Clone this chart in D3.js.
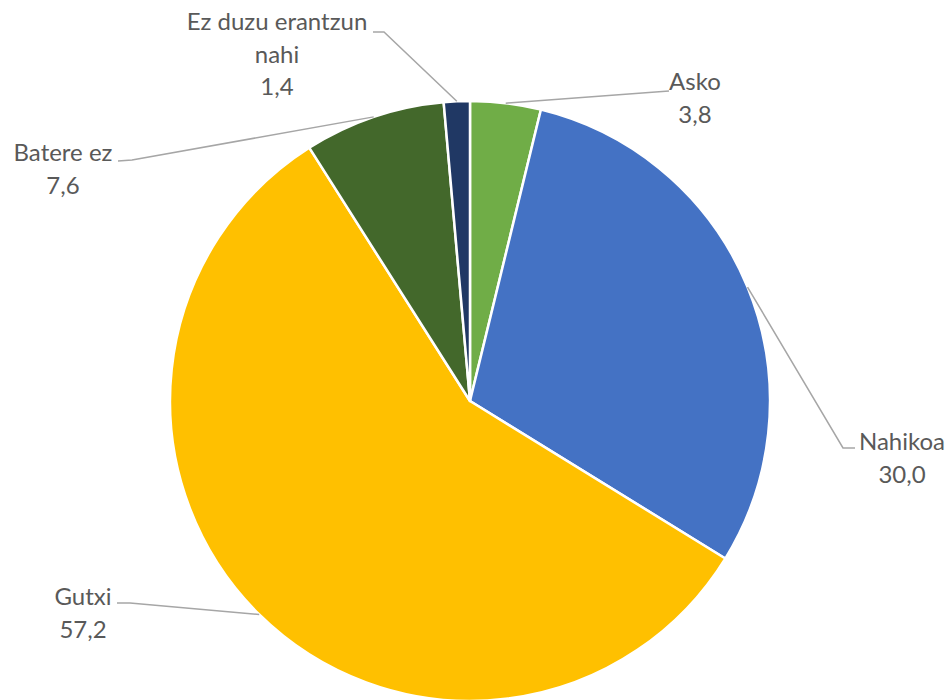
<!DOCTYPE html>
<html>
<head>
<meta charset="utf-8">
<script src="https://cdn.jsdelivr.net/npm/d3@7"></script>
<style>
  body { margin: 0; background: #fff; }
  svg { display: block; }
</style>
</head>
<body>
<div id="chart"></div>
<script>
var width = 949,
    height = 700,
    cx = 470,
    cy = 401,
    radius = 300;

// data
var categories = ["Asko", "Nahikoa", "Gutxi", "Batere ez", "Ez duzu erantzun nahi"];
var values = [3.8, 30.0, 57.2, 7.6, 1.4];
var colors = ["#70AD47", "#4472C4", "#FFC000", "#43682B", "#203864"];

// label layout: text lines, center x, first line y, leader points after the arc point
var labelLayout = [
    {lines: ["Asko"], x: 695, y: 90, leader: [[669, 91]]},
    {lines: ["Nahikoa"], x: 902, y: 450, leader: [[843, 448], [855, 448]]},
    {lines: ["Gutxi"], x: 83, y: 605, leader: [[130, 603], [117, 603]]},
    {lines: ["Batere ez"], x: 63, y: 161, leader: [[132, 160], [118, 161]]},
    {lines: ["Ez duzu erantzun", "nahi"], x: 277, y: 30, leader: [[384, 32], [373, 32]]}
];
var lineHeight = 32.5;

var fmt = function (v) {
    return d3.format(".1f")(v).replace(".", ",");
};

var svg = d3.select("#chart").append("svg")
    .attr("width", width)
    .attr("height", height);

var pie = d3.pie()
    .sort(null)
    .value(function (d) { return d; });

var arcs = pie(values);

var arc = d3.arc()
    .innerRadius(0)
    .outerRadius(radius);

var g = svg.append("g")
    .attr("transform", "translate(" + cx + "," + cy + ")");

g.selectAll("path")
    .data(arcs)
    .enter()
    .append("path")
    .attr("d", arc)
    .style("fill", function (d, i) { return colors[i]; })
    .style("stroke", "#fff")
    .style("stroke-width", 2.5)
    .style("stroke-linejoin", "round");

// leader lines
svg.selectAll(".leader")
    .data(arcs)
    .enter()
    .append("polyline")
    .attr("class", "leader")
    .attr("points", function (d, i) {
        var a = (d.startAngle + d.endAngle) / 2;
        var p = [cx + radius * Math.sin(a), cy - radius * Math.cos(a)];
        var pts = [p].concat(labelLayout[i].leader);
        return pts.map(function (q) { return q.join(","); }).join(" ");
    })
    .style("fill", "none")
    .style("stroke", "#A6A6A6")
    .style("stroke-width", 1.5);

// labels
var labels = svg.selectAll(".label")
    .data(arcs)
    .enter()
    .append("text")
    .attr("class", "label")
    .attr("text-anchor", "middle")
    .attr("font-family", "Lato, 'Open Sans', sans-serif")
    .attr("font-size", 24)
    .style("fill", "#595959");

labels.each(function (d, i) {
    var lay = labelLayout[i];
    var t = d3.select(this);
    var lines = lay.lines.concat([fmt(values[i])]);
    lines.forEach(function (s, j) {
        t.append("tspan")
            .attr("x", lay.x)
            .attr("y", lay.y + j * lineHeight)
            .text(s);
    });
});
</script>
</body>
</html>
